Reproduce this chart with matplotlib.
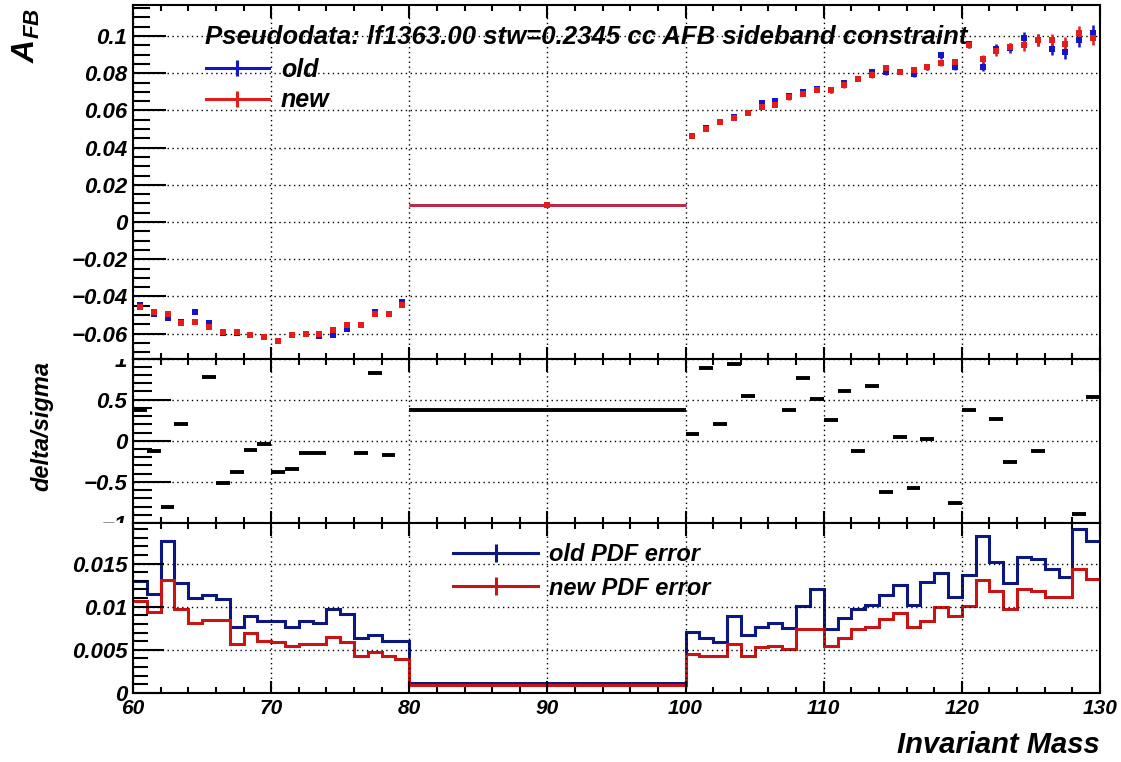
import numpy as np
import matplotlib.pyplot as plt
from matplotlib.lines import Line2D
from matplotlib.ticker import MultipleLocator, FuncFormatter
from matplotlib.transforms import Bbox, TransformedBbox

plt.rcParams['font.family'] = ['Liberation Sans', 'DejaVu Sans']
plt.rcParams['font.weight'] = 'bold'
plt.rcParams['font.style'] = 'italic'
plt.rcParams['mathtext.fontset'] = 'custom'
plt.rcParams['mathtext.bf'] = 'Liberation Sans:bold'
plt.rcParams['mathtext.rm'] = 'Liberation Sans:bold'

# binning: 1 GeV bins outside the Z window, one wide bin 80-100
edges = np.array(list(range(60, 81)) + list(range(100, 131)))
centers = 0.5 * (edges[:-1] + edges[1:])
widths = edges[1:] - edges[:-1]

# A_FB, old and new
afb_old = [-0.0446, -0.0495, -0.0517, -0.0537, -0.0486, -0.0542, -0.0596, -0.0598, -0.0609, -0.0620,
           -0.0638, -0.0609, -0.0602, -0.0612, -0.0609, -0.0573, -0.0555, -0.0486, -0.0497, -0.0430,
           0.0092,
           0.0462, 0.0508, 0.0538, 0.0565, 0.0587, 0.0641, 0.0652, 0.0678, 0.0697, 0.0715,
           0.0710, 0.0746, 0.0770, 0.0808, 0.0806, 0.0809, 0.0797, 0.0836, 0.0896, 0.0836,
           0.0956, 0.0836, 0.0932, 0.0936, 0.0990, 0.0977, 0.0931, 0.0914, 0.0981, 0.1017]
afb_new = [-0.0459, -0.0486, -0.0497, -0.0542, -0.0535, -0.0564, -0.0591, -0.0591, -0.0609, -0.0620,
           -0.0638, -0.0609, -0.0602, -0.0602, -0.0582, -0.0555, -0.0555, -0.0497, -0.0497, -0.0448,
           0.0092,
           0.0462, 0.0499, 0.0538, 0.0560, 0.0587, 0.0620, 0.0629, 0.0670, 0.0688, 0.0710,
           0.0710, 0.0735, 0.0770, 0.0791, 0.0828, 0.0809, 0.0818, 0.0836, 0.0855, 0.0858,
           0.0954, 0.0876, 0.0918, 0.0939, 0.0950, 0.0977, 0.0977, 0.0959, 0.1017, 0.0990]
afb_err = [0.0010, 0.0010, 0.0010, 0.0010, 0.0010, 0.0010, 0.0010, 0.0010, 0.0010, 0.0010,
           0.0010, 0.0010, 0.0010, 0.0010, 0.0010, 0.0010, 0.0010, 0.0010, 0.0010, 0.0010,
           0.0003,
           0.0012, 0.0012, 0.0012, 0.0012, 0.0012, 0.0012, 0.0012, 0.0012, 0.0012, 0.0012,
           0.0014, 0.0014, 0.0014, 0.0014, 0.0015, 0.0015, 0.0015, 0.0016, 0.0018, 0.0018,
           0.0020, 0.0022, 0.0024, 0.0026, 0.0030, 0.0032, 0.0034, 0.0036, 0.0038, 0.0040]

# (old - new) / sigma, nan where off scale
delta_sigma = [0.37, -0.13, -0.80, 0.21, np.nan, 0.78, -0.51, -0.38, -0.11, -0.04,
               -0.38, -0.34, -0.15, -0.15, np.nan, np.nan, -0.15, 0.83, -0.17, np.nan,
               0.37,
               0.08, 0.89, 0.21, 0.93, 0.55, np.nan, np.nan, 0.38, 0.76, 0.51,
               0.25, 0.61, -0.13, 0.67, -0.62, 0.04, -0.57, 0.02, np.nan, -0.76,
               0.38, np.nan, 0.27, -0.26, np.nan, -0.13, np.nan, np.nan, -0.89, 0.53]

# PDF errors
pdf_old = [0.0130, 0.0115, 0.0176, 0.0127, 0.0110, 0.0113, 0.0109, 0.0077, 0.0089, 0.0084,
           0.0084, 0.0077, 0.0083, 0.0081, 0.0097, 0.0091, 0.0064, 0.0067, 0.0060, 0.0060,
           0.0011,
           0.0071, 0.0064, 0.0059, 0.0089, 0.0067, 0.0077, 0.0081, 0.0075, 0.0101, 0.0120,
           0.0074, 0.0087, 0.0097, 0.0102, 0.0113, 0.0125, 0.0102, 0.0129, 0.0139, 0.0111,
           0.0137, 0.0182, 0.0152, 0.0127, 0.0158, 0.0155, 0.0144, 0.0134, 0.0190, 0.0176]
pdf_new = [0.0107, 0.0094, 0.0131, 0.0097, 0.0081, 0.0085, 0.0085, 0.0057, 0.0069, 0.0060,
           0.0059, 0.0055, 0.0057, 0.0057, 0.0065, 0.0059, 0.0043, 0.0047, 0.0043, 0.0039,
           0.0009,
           0.0045, 0.0043, 0.0043, 0.0057, 0.0043, 0.0053, 0.0055, 0.0051, 0.0074, 0.0074,
           0.0055, 0.0064, 0.0074, 0.0077, 0.0086, 0.0093, 0.0077, 0.0083, 0.0100, 0.0089,
           0.0101, 0.0131, 0.0118, 0.0097, 0.0121, 0.0118, 0.0111, 0.0111, 0.0144, 0.0132]

blue = '#1414c8'
red = '#e41c1c'
navy = '#0c1880'
dkred = '#c81414'

fmt = FuncFormatter(lambda v, p: ('%g' % (round(v, 6) + 0.0)).replace('-', '\u2212'))


def style_axis(ax, ymajor, yminor, ylen):
    ax.set_xlim(60, 130)
    ax.xaxis.set_major_locator(MultipleLocator(10))
    ax.xaxis.set_minor_locator(MultipleLocator(2))
    ax.yaxis.set_major_locator(MultipleLocator(ymajor))
    ax.yaxis.set_minor_locator(MultipleLocator(yminor))
    ax.yaxis.set_major_formatter(fmt)
    ax.xaxis.set_major_formatter(fmt)
    ax.tick_params(axis='x', which='both', direction='in', top=True, bottom=True, width=1.5)
    ax.tick_params(axis='x', which='major', length=9, labelsize=15, pad=4)
    ax.tick_params(axis='x', which='minor', length=4.5)
    ax.tick_params(axis='y', which='both', direction='in', left=True, right=False, width=1.5)
    ax.tick_params(axis='y', which='major', length=ylen, labelsize=16, pad=4)
    ax.tick_params(axis='y', which='minor', length=ylen / 2)
    ax.grid(True, which='major', color='black', linestyle=(0, (1, 2.5)), linewidth=1)
    for s in ax.spines.values():
        s.set_linewidth(1.5)


fig = plt.figure(figsize=(11.21, 7.62), dpi=100)
L, W = 133 / 1121, 967 / 1121
ax1 = fig.add_axes([L, 0.5295, W, 0.4639])
ax2 = fig.add_axes([L, 0.3136, W, 0.2159])
ax3 = fig.add_axes([L, 0.0906, W, 0.2230])

# top: A_FB
xerr = np.where(widths > 1, widths / 2.0, 0)
ax1.errorbar(centers, afb_old, yerr=afb_err, xerr=xerr, fmt='s', color=blue, ms=4.2, mew=0,
             elinewidth=1.8, capsize=0)
ax1.errorbar(centers, afb_new, yerr=afb_err, xerr=xerr, fmt='s', color=red, ms=4.2, mew=0,
             elinewidth=1.8, capsize=0)
ax1.set_ylim(-0.0734, 0.1167)
style_axis(ax1, 0.02, 0.005, 24)
ax1.tick_params(axis='x', labelbottom=False)

h_top = [Line2D([], [], color=blue, lw=2.2, marker='|', ms=11, mew=2.2),
         Line2D([], [], color=red, lw=2.2, marker='|', ms=11, mew=2.2)]
ax1.legend(h_top, ['old', 'new'], loc='upper left', bbox_to_anchor=(206 / 1121, 1 - 58 / 762),
           bbox_transform=fig.transFigure, frameon=False, fontsize=18, handlelength=2.5,
           handletextpad=0.5, labelspacing=0.25, borderaxespad=0, borderpad=0)

fig.text(205 / 1121, 1 - 37 / 762, 'Pseudodata: lf1363.00 stw=0.2345 cc AFB sideband constraint',
         ha='left', va='center', fontsize=18.5)

# middle: delta/sigma
ax2.hlines(delta_sigma, edges[:-1], edges[1:], color='black', lw=2.8)
ax2.set_ylim(-1, 1)
style_axis(ax2, 0.5, 0.1, 27)
ax2.tick_params(axis='x', labelbottom=False)
band = TransformedBbox(Bbox([[0, 0.3136], [1, 0.5295]]), fig.transFigure)
for t in ax2.get_yticklabels():
    t.set_clip_box(band)
    t.set_clip_on(True)

# bottom: PDF errors
ax3.stairs(pdf_old, edges, color=navy, lw=2.2, baseline=None)
ax3.stairs(pdf_new, edges, color=dkred, lw=2.2, baseline=None)
ax3.set_ylim(0, 0.0197)
style_axis(ax3, 0.005, 0.001, 22)

h_bot = [Line2D([], [], color=navy, lw=2.2, marker='|', ms=13, mew=2.2),
         Line2D([], [], color=dkred, lw=2.2, marker='|', ms=13, mew=2.2)]
ax3.legend(h_bot, ['old PDF error', 'new PDF error'], loc='upper left',
           bbox_to_anchor=(453 / 1121, 1 - 543 / 762), bbox_transform=fig.transFigure,
           frameon=False, fontsize=17, handlelength=3.6, handletextpad=0.45, labelspacing=0.45,
           borderaxespad=0, borderpad=0)

fig.text(26 / 1121, 1 - 8 / 762, r'$\mathbf{A}_{\mathbf{FB}}$', rotation=90, ha='center', va='top',
         fontsize=23)
fig.text(42 / 1121, 1 - 426 / 762, 'delta/sigma', rotation=90, ha='center', va='center', fontsize=17)
fig.text(1100 / 1121, 1 - 745 / 762, 'Invariant Mass', ha='right', va='center', fontsize=21)

fig.savefig('out.png', dpi=100)
